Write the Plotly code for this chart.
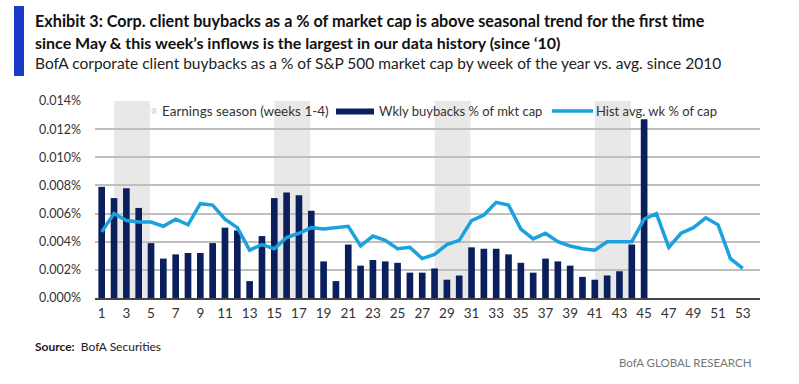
import plotly.graph_objects as go

weeks = list(range(1, 54))
buyback_weeks = list(range(1, 46))
wkly_buybacks = [0.0079, 0.0071, 0.0078, 0.0064, 0.0039, 0.0028, 0.0031, 0.0032, 0.0032, 0.0039,
                 0.0050, 0.0048, 0.0012, 0.0044, 0.0071, 0.0075, 0.0073, 0.0062, 0.0026, 0.0012,
                 0.0038, 0.0023, 0.0027, 0.0026, 0.0025, 0.0018, 0.0018, 0.0021, 0.0013, 0.0016,
                 0.0036, 0.0035, 0.0035, 0.0031, 0.0025, 0.0018, 0.0028, 0.0026, 0.0023, 0.0015,
                 0.0013, 0.0016, 0.0019, 0.0038, 0.0127]
hist_avg = [0.0047, 0.0060, 0.0055, 0.0054, 0.0054, 0.0051, 0.0056, 0.0052, 0.0067, 0.0066,
            0.0056, 0.0050, 0.0034, 0.0038, 0.0035, 0.0043, 0.0046, 0.0050, 0.0049, 0.0050,
            0.0051, 0.0037, 0.0044, 0.0041, 0.0035, 0.0036, 0.0028, 0.0031, 0.0038, 0.0041,
            0.0055, 0.0059, 0.0068, 0.0066, 0.0049, 0.0042, 0.0046, 0.0040, 0.0037, 0.0035,
            0.0034, 0.0040, 0.0040, 0.0040, 0.0056, 0.0060, 0.0036, 0.0046, 0.0050, 0.0057,
            0.0052, 0.0028, 0.0021]
earnings_start_weeks = [2, 15, 28, 41]
y_ticks = [0, 0.002, 0.004, 0.006, 0.008, 0.010, 0.012, 0.014]
x_ticks = list(range(1, 54, 2))

NAVY = "#0b1f5c"
LBLUE = "#1ba1e0"
SHADE = "#e8e8e8"
FONT = "Lato, 'Liberation Sans', sans-serif"

# plot area pixel geometry
L, R, T, B = 95, 760, 101, 298
W, H = 799, 384


def px(x):
    return (x - L) / (R - L)


def py(y):
    return (B - y) / (B - T)


fig = go.Figure()
fig.add_trace(go.Bar(x=buyback_weeks, y=wkly_buybacks, name="Wkly buybacks % of mkt cap",
                     marker=dict(color=NAVY, line=dict(width=0)), width=0.54))
fig.add_trace(go.Scatter(x=weeks, y=hist_avg, mode="lines", name="Hist avg. wk % of cap",
                         line=dict(color=LBLUE, width=3.5)))

shapes = []
for s in earnings_start_weeks:
    shapes.append(dict(type="rect", xref="x", yref="y", x0=s, x1=s + 2.92, y0=0, y1=0.014,
                       fillcolor=SHADE, line=dict(width=0), layer="below"))

# left accent bar
shapes.append(dict(type="rect", xref="paper", yref="paper", x0=px(14), x1=px(24), y0=py(76), y1=py(6),
                   fillcolor="#1a3ac8", line=dict(width=0)))

# manual legend
shapes.append(dict(type="rect", xref="paper", yref="paper", x0=px(151.5), x1=px(156.5), y0=py(114), y1=py(108),
                   fillcolor="#e3e3e3", line=dict(width=0)))
shapes.append(dict(type="rect", xref="paper", yref="paper", x0=px(336), x1=px(374), y0=py(114.5), y1=py(108.5),
                   fillcolor=NAVY, line=dict(width=0)))
shapes.append(dict(type="line", xref="paper", yref="paper", x0=px(552), x1=px(593), y0=py(111), y1=py(111),
                   line=dict(color=LBLUE, width=3.5)))

annotations = []


def ann(text, x, y, size, color="#111111", anchor="left", bold=False):
    annotations.append(dict(text=("<b>%s</b>" % text) if bold else text, xref="paper", yref="paper",
                            x=px(x), y=py(y), xanchor=anchor, yanchor="middle", showarrow=False,
                            font=dict(family=FONT, size=size, color=color)))


ann("Exhibit 3: Corp. client buybacks as a % of market cap is above seasonal trend for the first time",
    33, 21, 16.2, "#111111", bold=True)
ann("since May &amp; this week\u2019s inflows is the largest in our data history (since \u201810)",
    33, 42, 16, "#111111", bold=True)
ann("BofA corporate client buybacks as a % of S&amp;P 500 market cap by week of the year vs. avg. since 2010",
    33, 63, 15.5, "#222222")
ann("Earnings season (weeks 1-4)", 160, 111, 13.5, "#333333")
ann("Wkly buybacks % of mkt cap", 377, 111, 13, "#333333")
ann("Hist avg. wk % of cap", 594, 111, 13, "#333333")
ann("<b>Source:</b>  BofA Securities", 33, 346, 12, "#222222")
ann("BofA GLOBAL RESEARCH", 753, 362, 11.5, "#777777", anchor="right")

fig.update_layout(
    width=W, height=H,
    margin=dict(l=L, r=W - R, t=T, b=H - B, pad=0),
    paper_bgcolor="white", plot_bgcolor="white",
    showlegend=False, hovermode=False,
    shapes=shapes, annotations=annotations,
    font=dict(family=FONT, color="#333333"),
    xaxis=dict(range=[0.456, 54.4], tickmode="array", tickvals=x_ticks, ticktext=[str(v) for v in x_ticks],
               showgrid=False, zeroline=False, showline=True, linecolor="#444444", linewidth=2,
               ticks="", tickfont=dict(size=13.5, color="#333333", family=FONT), ticklabelstandoff=2),
    yaxis=dict(range=[0, 0.014], tickmode="array", tickvals=y_ticks,
               ticktext=["%.3f%%" % v for v in y_ticks],
               showgrid=True, gridcolor="#bfbfbf", gridwidth=1.5, zeroline=False, showline=False,
               ticks="", tickfont=dict(size=12.5, color="#333333", family=FONT), ticklabelstandoff=13),
    bargap=0.46,
)

fig.write_html("out.html", config={"displayModeBar": False},
               post_script="document.body.style.margin='0';document.body.style.overflow='hidden';")
